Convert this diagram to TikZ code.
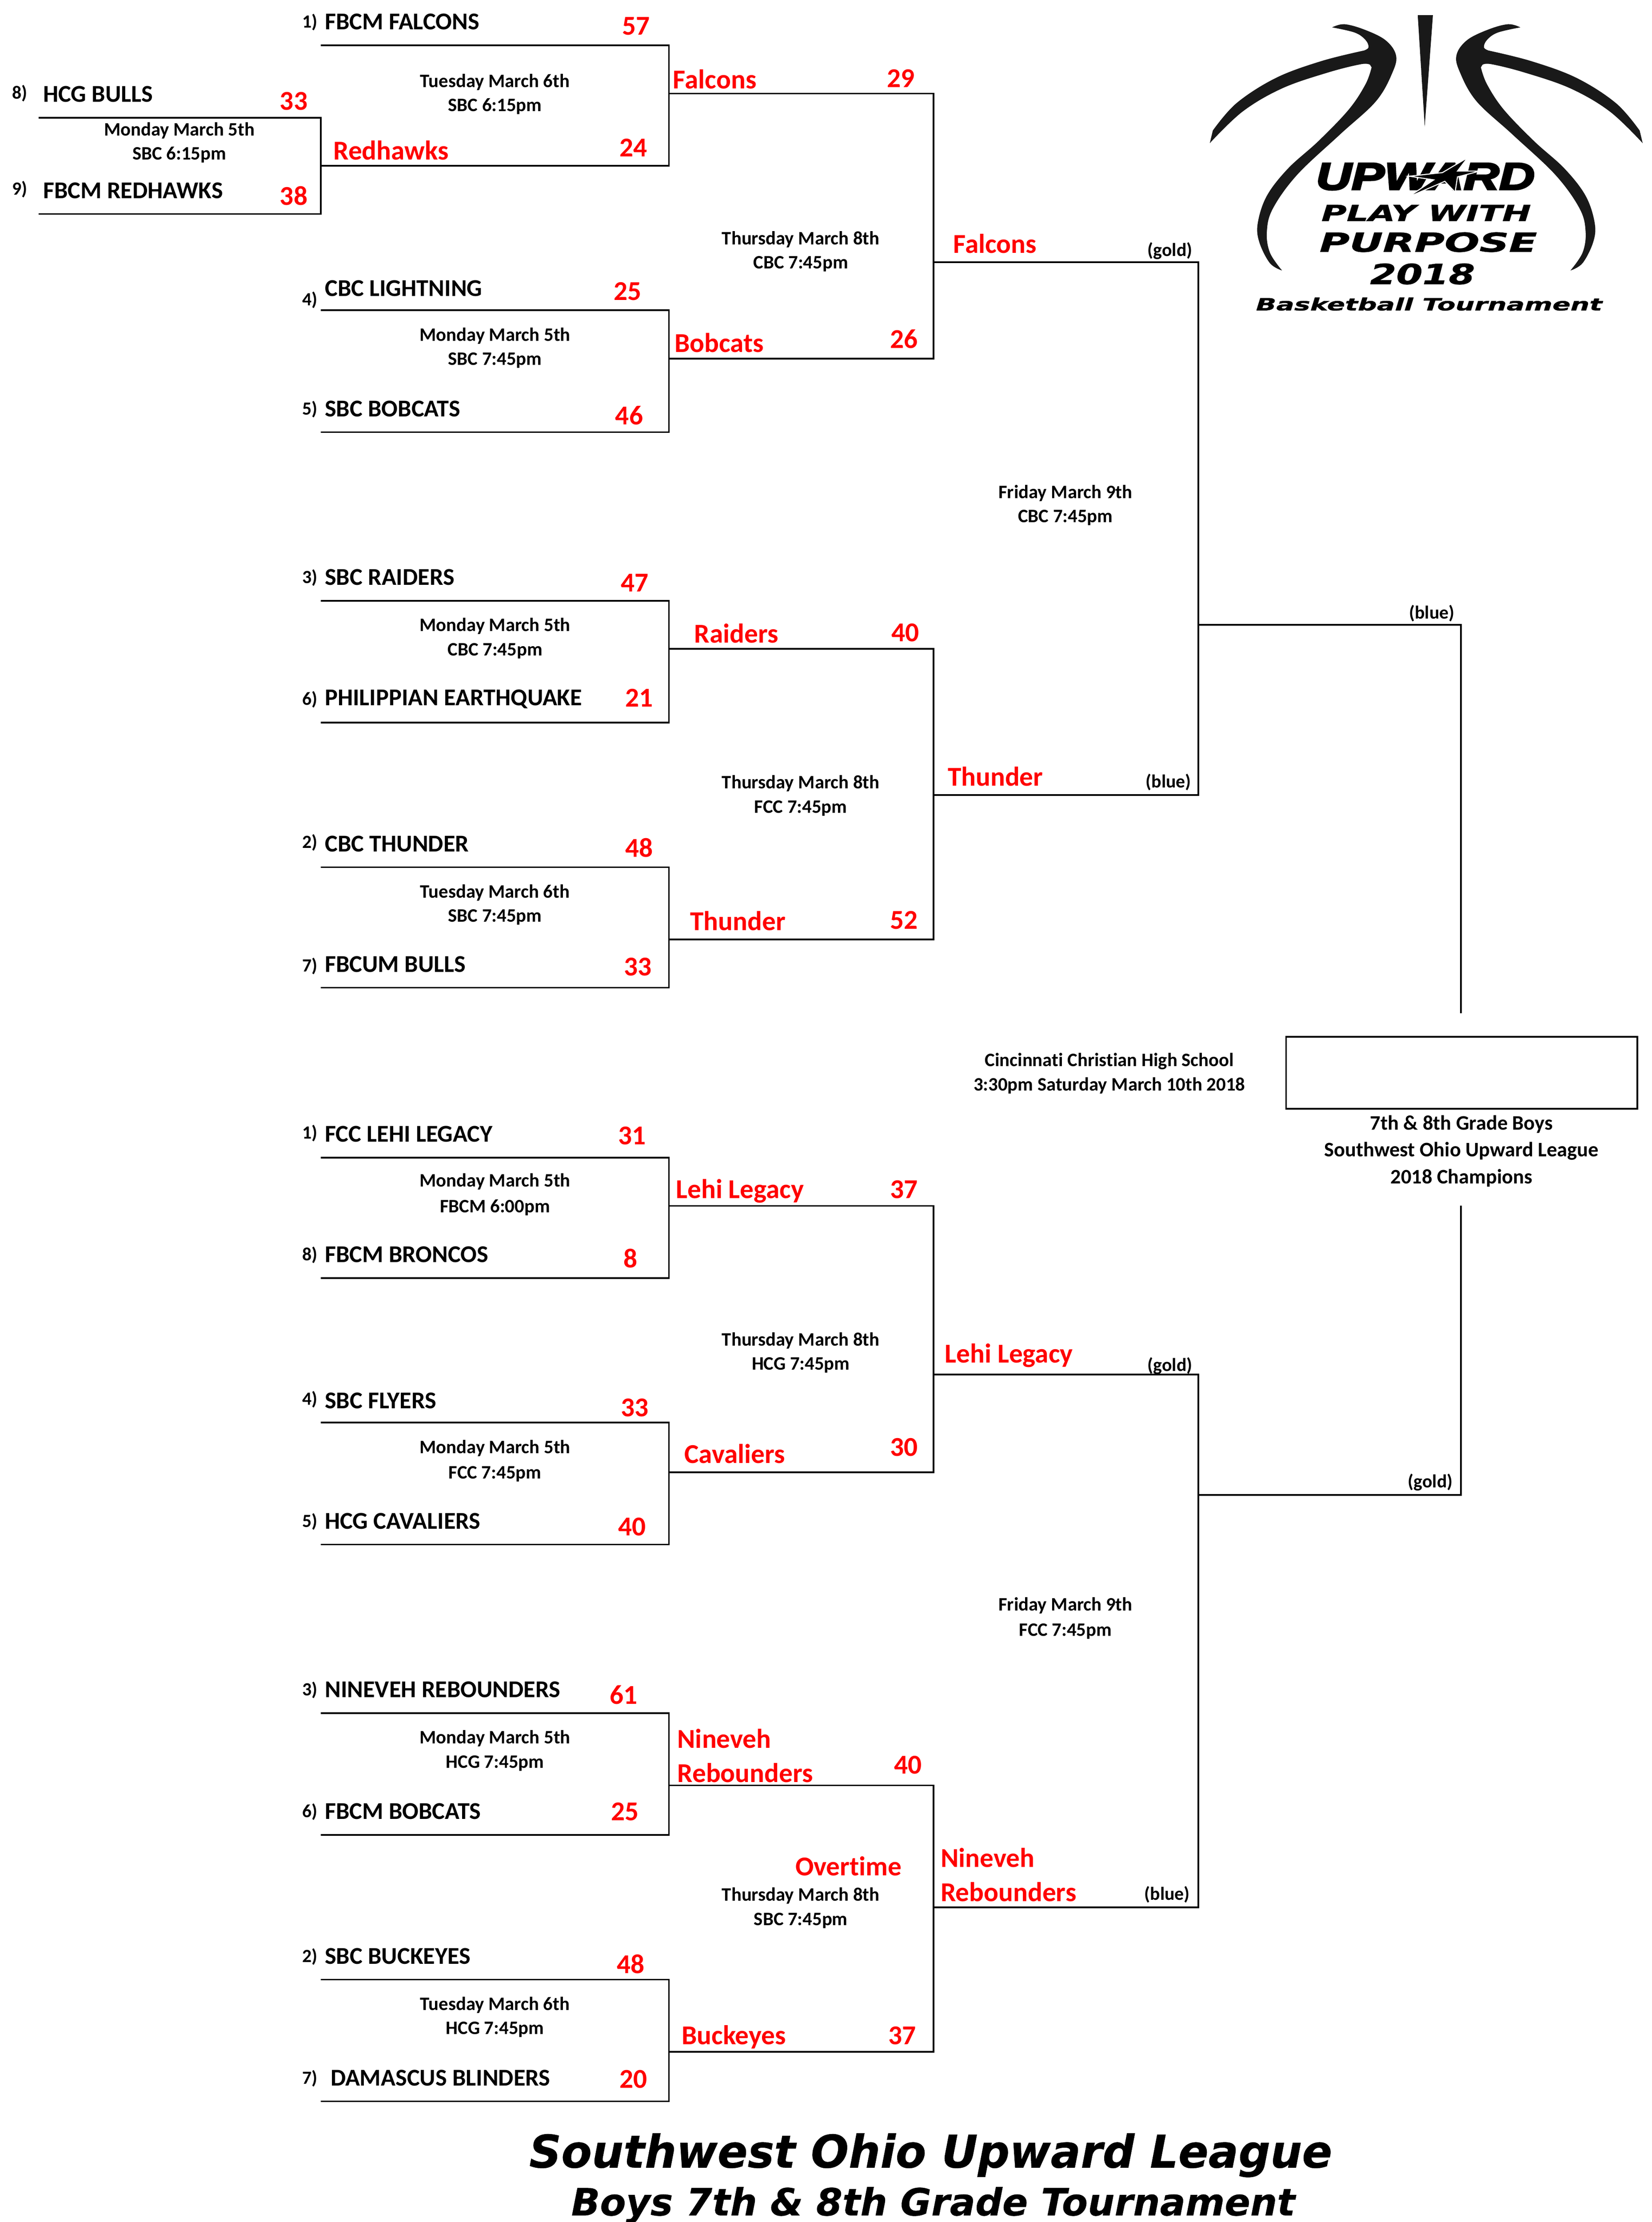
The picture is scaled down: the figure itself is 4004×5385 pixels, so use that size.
\documentclass[tikz,border=0pt]{standalone}
\usepackage{fontspec}
\usepackage{graphicx}
\setmainfont{Carlito}[Ligatures=NoCommon]
\newfontfamily\dv{DejaVu Sans}[BoldItalicFeatures={FakeBold=0.5}]
\newfontfamily\dvh{DejaVu Sans}[BoldItalicFeatures={FakeBold=1.2}]
\newfontfamily\ls{Liberation Sans}[BoldItalicFeatures={FakeBold=4}]
\definecolor{scorered}{RGB}{255,0,0}
\newcount\tn
\def\tx#1#2#3{\global\advance\tn by 1 \node[#1] (t\the\tn) at (#2) {#3};}
\tikzset{
  bline/.style={line width=4pt,black,line cap=butt,line join=miter},
  team/.style={xshift=1.7pt,yshift=-2pt,inner sep=0pt,anchor=west,text height=37pt,text depth=0pt,font=\fontsize{58.5}{60}\selectfont\bfseries},
  seed/.style={xshift=1.7pt,yshift=-2pt,inner sep=0pt,anchor=west,text height=28pt,text depth=0pt,font=\fontsize{45}{47}\selectfont\bfseries},
  score/.style={xshift=1.7pt,yshift=-2pt,inner sep=0pt,anchor=center,text height=42pt,text depth=0pt,text=scorered,font=\fontsize{66}{68}\selectfont\bfseries},
  winner/.style={xshift=1.7pt,yshift=-2pt,inner sep=0pt,anchor=west,text height=42pt,text depth=0pt,text=scorered,font=\fontsize{66}{68}\selectfont\bfseries},
  datel/.style={xshift=2.5pt,yshift=-1pt,inner sep=0pt,anchor=center,text height=30pt,text depth=0pt,font=\fontsize{46}{48}\selectfont\bfseries},
  champ/.style={xshift=1.7pt,yshift=-2pt,inner sep=0pt,anchor=center,text height=32pt,text depth=0pt,font=\fontsize{50}{52}\selectfont\bfseries},
  pool/.style={xshift=1.7pt,yshift=-2pt,inner sep=0pt,anchor=center,text height=29pt,text depth=0pt,font=\fontsize{45}{47}\selectfont\bfseries},
  logot/.style={inner sep=0pt,anchor=center},
  titlet/.style={inner sep=0pt,anchor=base},
}
% bracket: name, x-left, y-top, x-right, y-bottom
\def\bracket#1#2#3#4#5{%
  \coordinate (#1a) at (#2,#3);
  \coordinate (#1b) at (#4,#3);
  \coordinate (#1c) at (#4,#5);
  \coordinate (#1d) at (#2,#5);
  \draw[bline] (#1a) -- (#1b) -- (#1c) -- (#1d);}
\def\twodate#1#2#3#4#5{\tx{datel}{#1,#2}{#4}\tx{datel}{#1,#3}{#5}}
\def\logohalf{%
  \fill[black!90] plot[smooth,tension=.6] coordinates {(515,130) (555,115) (620,140) (690,190) (725,260) (715,340) (660,480) (540,640) (400,830) (320,990) (300,1100) (310,1200) (350,1285)}
   -- plot[smooth,tension=.6] coordinates {(350,1285) (310,1250) (275,1150) (270,1060) (300,930) (370,800) (470,670) (570,520) (625,400) (645,320)}
   -- (640,308)
   -- plot[smooth,tension=.6] coordinates {(640,308) (610,305) (500,345) (350,420) (220,530) (112,680)}
   -- (122,620)
   -- plot[smooth,tension=.6] coordinates {(122,620) (200,490) (330,370) (480,290) (620,240)}
   -- plot[smooth,tension=.6] coordinates {(620,240) (635,225) (625,190) (590,155) (515,130)} -- cycle;}
\begin{document}
\begin{tikzpicture}[x=3.431pt,y=-3.434pt]
\fill[white] (0pt,0pt) rectangle (4004pt,-5385pt);
\useasboundingbox (0pt,0pt) rectangle (4004pt,-5385pt);

% brackets
\bracket{p}{27.3}{83}{226.6}{151}
\bracket{ra}{226.6}{32}{472.6}{117}
\bracket{rb}{226.6}{219}{472.6}{305}
\bracket{rc}{226.6}{424}{472.6}{510}
\bracket{rd}{226.6}{612}{472.6}{697}
\bracket{re}{226.6}{817}{472.6}{902}
\bracket{rf}{226.6}{1004}{472.6}{1090}
\bracket{rg}{226.6}{1209}{472.6}{1295}
\bracket{rh}{226.6}{1397}{472.6}{1483}
\bracket{qa}{472.6}{66}{659.5}{253}
\bracket{qb}{472.6}{458}{659.5}{663}
\bracket{qc}{472.6}{851}{659.5}{1039}
\bracket{qd}{472.6}{1260}{659.5}{1448}
\bracket{sa}{659.5}{185}{846.5}{561}
\bracket{sb}{659.5}{970}{846.5}{1346}
% final
\coordinate (fa) at (846.5,441);
\coordinate (fb) at (1032,441);
\coordinate (fc) at (1032,715);
\coordinate (fd) at (846.5,1055);
\coordinate (fe) at (1032,1055);
\coordinate (ff) at (1032,851);
\draw[bline] (fa) -- (fb) -- (fc);
\draw[bline] (fd) -- (fe) -- (ff);
\node[draw,line width=4pt,inner sep=0pt,minimum width=851pt,minimum height=175pt,anchor=north west] (champbox) at (908,731) {};

% seeds
\tx{seed}{213,15}{1)}
\tx{seed}{8,65}{8)}
\tx{seed}{8,133}{9)}
\tx{seed}{213,211}{4)}
\tx{seed}{213,288}{5)}
\tx{seed}{213,407}{3)}
\tx{seed}{213,493}{6)}
\tx{seed}{213,594}{2)}
\tx{seed}{213,681}{7)}
\tx{seed}{213,799}{1)}
\tx{seed}{213,885}{8)}
\tx{seed}{213,987}{4)}
\tx{seed}{213,1073}{5)}
\tx{seed}{213,1192}{3)}
\tx{seed}{213,1278}{6)}
\tx{seed}{213,1380}{2)}
\tx{seed}{213,1466}{7)}

% teams
\tx{team}{229,15}{FBCM FALCONS}
\tx{team}{30,66}{HCG BULLS}
\tx{team}{30,134}{FBCM REDHAWKS}
\tx{team}{229,203}{CBC LIGHTNING}
\tx{team}{229,288}{SBC BOBCATS}
\tx{team}{229,407}{SBC RAIDERS}
\tx{team}{229,492}{PHILIPPIAN EARTHQUAKE}
\tx{team}{229,595}{CBC THUNDER}
\tx{team}{229,680}{FBCUM BULLS}
\tx{team}{229,800}{FCC LEHI LEGACY}
\tx{team}{229,885}{FBCM BRONCOS}
\tx{team}{229,988}{SBC FLYERS}
\tx{team}{229,1073}{HCG CAVALIERS}
\tx{team}{229,1192}{NINEVEH REBOUNDERS}
\tx{team}{229,1278}{FBCM BOBCATS}
\tx{team}{229,1380}{SBC BUCKEYES}
\tx{team}{233,1466}{DAMASCUS BLINDERS}

% scores
\tx{score}{449,18}{57}
\tx{score}{207,71}{33}
\tx{score}{207,138}{38}
\tx{score}{447,104}{24}
\tx{score}{443,205}{25}
\tx{score}{444,293}{46}
\tx{score}{448,411}{47}
\tx{score}{451,492}{21}
\tx{score}{451,598}{48}
\tx{score}{450,682}{33}
\tx{score}{446,801}{31}
\tx{score}{445,888}{8}
\tx{score}{448,993}{33}
\tx{score}{446,1077}{40}
\tx{score}{440,1196}{61}
\tx{score}{441,1278}{25}
\tx{score}{445,1386}{48}
\tx{score}{447,1467}{20}
\tx{score}{636,55}{29}
\tx{score}{638,239}{26}
\tx{score}{639,446}{40}
\tx{score}{638,649}{52}
\tx{score}{638,839}{37}
\tx{score}{638,1021}{30}
\tx{score}{641,1245}{40}
\tx{score}{637,1436}{37}

% winners
\tx{winner}{475,56}{Falcons}
\tx{winner}{235,106}{Redhawks}
\tx{winner}{476,242}{Bobcats}
\tx{winner}{490,447}{Raiders}
\tx{winner}{487,650}{Thunder}
\tx{winner}{477,839}{Lehi Legacy}
\tx{winner}{483,1026}{Cavaliers}
\tx{winner}{478,1227}{Nineveh}
\tx{winner}{478,1251}{Rebounders}
\tx{winner}{481,1436}{Buckeyes}
\tx{winner}{673,172}{Falcons}
\tx{winner}{669,548}{Thunder}
\tx{winner}{667,955}{Lehi Legacy}
\tx{winner}{664,1311}{Nineveh}
\tx{winner}{664,1335}{Rebounders}
\tx{score}{599,1317}{Overtime}

% pool labels
\tx{pool}{826,176}{(gold)}
\tx{pool}{825,551}{(blue)}
\tx{pool}{826,963}{(gold)}
\tx{pool}{824,1336}{(blue)}
\tx{pool}{1011,432}{(blue)}
\tx{pool}{1010,1045}{(gold)}

% dates
\twodate{349}{57}{74}{Tuesday March 6th}{SBC 6:15pm}
\twodate{126}{91}{108}{Monday March 5th}{SBC 6:15pm}
\twodate{565}{168}{185}{Thursday March 8th}{CBC 7:45pm}
\twodate{349}{236}{253}{Monday March 5th}{SBC 7:45pm}
\twodate{752}{347}{364}{Friday March 9th}{CBC 7:45pm}
\twodate{349}{441}{458}{Monday March 5th}{CBC 7:45pm}
\twodate{565}{552}{569}{Thursday March 8th}{FCC 7:45pm}
\twodate{349}{629}{646}{Tuesday March 6th}{SBC 7:45pm}
\twodate{783}{748}{765}{Cincinnati Christian High School}{3:30pm Saturday March 10th 2018}
\twodate{349}{833}{851}{Monday March 5th}{FBCM 6:00pm}
\twodate{565}{945}{962}{Thursday March 8th}{HCG 7:45pm}
\twodate{349}{1021}{1039}{Monday March 5th}{FCC 7:45pm}
\twodate{752}{1132}{1150}{Friday March 9th}{FCC 7:45pm}
\twodate{349}{1226}{1243}{Monday March 5th}{HCG 7:45pm}
\twodate{565}{1337}{1354}{Thursday March 8th}{SBC 7:45pm}
\twodate{349}{1414}{1431}{Tuesday March 6th}{HCG 7:45pm}

% champions
\tx{champ}{1032,792}{7th \& 8th Grade Boys}
\tx{champ}{1032,811}{Southwest Ohio Upward League}
\tx{champ}{1032,830}{2018 Champions}

% title
\tx{titlet}{2256pt,-5253pt}{\resizebox{1946pt}{83pt}{\dv\bfseries\itshape Southwest Ohio Upward League}}
\tx{titlet}{2262pt,-5369pt}{\resizebox{1754pt}{69pt}{\dv\bfseries\itshape Boys 7th \& 8th Grade Tournament}}

% logo
\begin{scope}[shift={(2850pt,0pt)},x=0.7358pt,y=-0.5102pt]
  \fill[black!90] (797,72) -- (847,72) -- (820,600) -- cycle;
  \logohalf
  \begin{scope}[shift={(1650,0)},xscale=-1]
    \logohalf
  \end{scope}
\end{scope}
\tx{logot}{3455pt,-428pt}{\resizebox{530pt}{64pt}{\ls\bfseries\itshape UPWARD}}
\begin{scope}[shift={(3150pt,-360pt)},x=0.3827pt,y=-0.353pt]
  \filldraw[black,draw=white,line width=2.5pt,line join=miter]
    (1065,62) -- (1000,155) -- (1140,155) -- (1000,195) -- (985,300) -- (920,225) -- (685,335) -- (850,215) -- (695,190) -- (905,165) -- cycle;
\end{scope}
\tx{logot}{3457pt,-516pt}{\resizebox{508pt}{39pt}{\dvh\bfseries\itshape PLAY WITH}}
\tx{logot}{3462pt,-587pt}{\resizebox{527pt}{47pt}{\dvh\bfseries\itshape PURPOSE}}
\tx{logot}{3448pt,-664pt}{\resizebox{254pt}{50pt}{\dvh\bfseries\itshape 2018}}
\tx{logot}{3464pt,-737pt}{\resizebox{839pt}{31pt}{\dvh\bfseries\itshape Basketball Tournament}}
\end{tikzpicture}
\end{document}
